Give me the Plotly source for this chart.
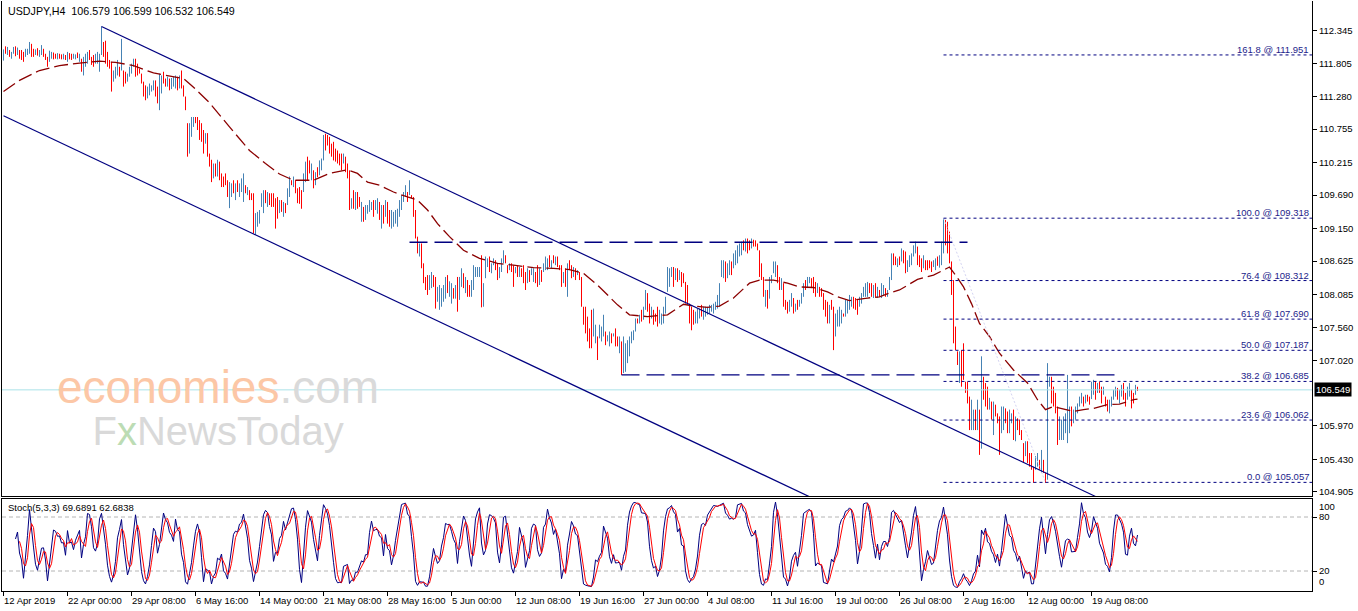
import plotly.graph_objects as go

# ---------------- data (USDJPY H4 bars) ----------------
high = [
112.04,112.09,112.08,112.03,112.00,112.08,112.09,112.07,112.03,112.03,
112.00,112.05,112.05,112.16,112.13,112.05,112.04,112.06,112.03,112.11,
112.05,111.97,111.92,112.02,112.00,111.99,111.97,111.98,111.97,111.96,
111.97,111.95,112.00,111.98,111.97,111.97,111.96,111.99,111.97,111.89,
111.92,111.97,112.00,112.03,111.92,111.95,111.97,112.00,111.97,112.41,
112.16,112.18,112.00,111.87,111.84,111.70,111.76,111.87,111.76,112.21,
111.70,111.68,111.65,111.76,111.81,111.89,111.89,111.81,111.73,111.65,
111.52,111.46,111.44,111.49,111.46,111.54,111.54,111.44,111.65,111.62,
111.68,111.57,111.60,111.57,111.58,111.60,111.62,111.60,111.62,111.70,
111.46,111.28,110.85,110.85,110.95,110.95,110.95,110.95,110.90,110.85,
110.74,110.69,110.69,110.36,110.26,110.20,110.20,110.26,110.23,110.04,
109.99,110.04,109.93,109.90,109.88,109.93,109.88,109.93,109.88,109.96,
110.04,109.85,109.82,109.77,109.72,109.72,109.40,109.42,109.45,109.72,
109.77,109.77,109.74,109.72,109.72,109.72,109.64,109.66,109.61,109.61,
109.58,109.56,109.80,109.99,109.93,109.99,109.93,109.80,109.82,109.77,
110.04,110.23,110.31,110.25,110.20,110.09,110.06,110.14,110.25,110.28,
110.66,110.68,110.66,110.63,110.52,110.55,110.44,110.41,110.36,110.36,
110.36,110.31,110.20,110.09,109.64,109.77,109.74,109.74,109.66,109.58,
109.50,109.53,109.53,109.61,109.58,109.61,109.61,109.64,109.58,109.53,
109.53,109.61,109.58,109.45,109.45,109.42,109.45,109.47,109.61,109.69,
109.74,109.85,109.74,109.93,109.69,109.66,109.45,109.02,108.91,108.91,
108.59,108.37,108.40,108.40,108.45,108.40,108.37,108.21,108.24,108.19,
108.24,108.37,108.40,108.30,108.27,108.19,108.24,108.37,108.37,108.51,
108.43,108.37,108.32,108.24,108.32,108.56,108.53,108.53,108.53,108.72,
108.27,108.70,108.67,108.70,108.59,108.67,108.64,108.59,108.53,108.67,
108.80,108.72,108.56,108.59,108.59,108.56,108.53,108.56,108.53,108.51,
108.56,108.45,108.51,108.48,108.51,108.51,108.45,108.56,108.51,108.48,
108.59,108.70,108.67,108.72,108.64,108.72,108.70,108.70,108.56,108.56,
108.45,108.51,108.59,108.64,108.56,108.53,108.51,108.48,108.45,108.37,
107.89,107.89,107.73,107.54,107.84,107.86,107.60,107.41,107.60,107.57,
107.76,107.49,107.43,107.49,107.46,107.46,107.54,107.41,107.41,107.33,
107.41,107.30,107.35,107.41,107.49,107.51,107.70,107.70,107.76,107.84,
107.89,108.16,108.11,107.94,107.89,107.84,107.78,107.89,107.84,107.78,
107.89,108.05,108.53,108.51,108.53,108.53,108.51,108.51,108.48,108.45,
108.43,108.29,108.24,107.94,107.89,107.84,107.81,107.86,107.86,107.92,
107.89,107.89,107.89,107.92,107.92,107.94,107.97,108.08,108.27,108.64,
108.64,108.62,108.59,108.64,108.62,108.75,108.80,108.88,108.91,108.94,
108.96,108.99,108.99,108.96,108.99,108.97,108.96,108.91,108.80,108.59,
108.37,108.16,108.16,108.37,108.40,108.62,108.62,108.56,108.37,108.35,
108.27,108.00,107.97,108.00,108.11,108.03,107.94,108.00,108.00,108.11,
108.27,108.32,108.37,108.37,108.35,108.37,108.29,108.27,108.21,108.19,
108.11,108.00,107.97,107.92,108.00,107.89,107.78,107.84,107.89,107.84,
107.78,108.00,108.00,108.08,108.05,108.05,108.03,108.00,108.05,108.11,
108.21,108.27,108.29,108.27,108.27,108.24,108.27,108.21,108.16,108.27,
108.24,108.19,108.16,108.37,108.75,108.75,108.70,108.67,108.70,108.83,
108.80,108.78,108.64,108.72,108.75,108.88,108.94,108.86,108.72,108.67,
108.72,108.64,108.64,108.64,108.62,108.64,108.67,108.70,108.72,108.94,
109.31,109.29,109.26,109.10,108.62,108.32,107.57,107.17,107.17,107.19,
107.30,106.68,106.68,106.44,106.39,106.23,106.23,106.39,106.23,107.09,
106.76,106.66,106.60,106.42,106.36,106.36,106.31,106.17,106.12,106.28,
106.28,106.25,106.20,106.23,106.17,106.23,106.12,106.09,106.07,105.90,
105.69,105.72,105.72,105.53,105.53,105.31,105.48,105.53,105.42,105.58,
105.42,105.21,106.98,106.76,106.76,106.60,106.50,106.28,106.12,106.07,
106.12,106.17,106.79,106.28,106.28,106.23,106.28,106.33,106.44,106.50,
106.44,106.47,106.47,106.44,106.68,106.71,106.68,106.66,106.68,106.60,
106.60,106.44,106.39,106.39,106.44,106.55,106.60,106.58,106.55,106.63,
106.66,106.50,106.60,106.66,106.55,106.50,106.63,106.599]

low = [
111.86,111.97,111.95,111.92,111.89,111.97,111.93,111.95,111.89,111.87,
111.84,111.92,111.95,111.97,111.92,111.92,111.95,111.94,111.92,111.95,
111.92,111.87,111.76,111.84,111.89,111.88,111.89,111.88,111.89,111.88,
111.88,111.87,111.84,111.88,111.87,111.89,111.88,111.90,111.84,111.68,
111.62,111.76,111.81,111.87,111.79,111.76,111.81,111.81,111.68,111.95,
111.92,111.81,111.76,111.73,111.36,111.52,111.57,111.62,111.60,111.70,
111.44,111.49,111.52,111.60,111.65,111.76,111.60,111.62,111.65,111.49,
111.28,111.22,111.25,111.30,111.36,111.38,111.28,111.17,111.06,111.33,
111.49,111.44,111.44,111.38,111.40,111.44,111.41,111.38,111.41,111.41,
111.28,111.06,110.31,110.36,110.63,110.79,110.85,110.74,110.58,110.55,
110.36,110.52,110.31,110.15,109.90,109.96,109.99,109.99,109.93,109.82,
109.82,109.85,109.66,109.48,109.66,109.72,109.61,109.74,109.66,109.74,
109.58,109.72,109.69,109.61,109.61,109.07,109.05,109.18,109.23,109.50,
109.40,109.56,109.50,109.53,109.50,109.50,109.15,109.31,109.40,109.42,
109.34,109.40,109.53,109.66,109.85,109.82,109.72,109.56,109.55,109.47,
109.74,109.90,109.93,110.04,109.93,109.80,109.85,109.98,110.01,110.09,
110.25,110.41,110.49,110.36,110.31,110.25,110.23,110.20,110.17,110.09,
110.20,110.06,109.96,109.45,109.47,109.47,109.45,109.47,109.50,109.26,
109.26,109.29,109.39,109.42,109.45,109.34,109.45,109.39,109.29,109.15,
109.23,109.34,109.23,109.18,109.15,109.18,109.23,109.18,109.34,109.45,
109.58,109.66,109.58,109.69,109.64,109.34,108.99,108.75,108.70,108.51,
108.27,108.16,108.08,108.16,108.19,108.21,107.86,107.97,107.84,107.89,
107.97,108.02,108.11,108.05,107.94,108.02,108.02,107.81,108.00,108.21,
108.19,108.11,108.05,108.05,108.05,108.16,108.37,108.37,108.37,107.88,
107.89,108.35,108.53,108.45,108.43,108.56,108.48,108.32,108.35,108.45,
108.59,108.59,108.43,108.48,108.45,108.21,108.43,108.37,108.37,108.37,
108.27,108.16,108.27,108.29,108.40,108.29,108.27,108.21,108.24,108.29,
108.45,108.48,108.48,108.53,108.51,108.59,108.56,108.53,108.48,108.21,
108.27,108.21,108.05,108.48,108.35,108.37,108.32,108.40,108.32,107.89,
107.60,107.46,107.33,107.22,107.22,107.41,107.30,107.03,107.38,107.33,
107.41,107.27,107.33,107.25,107.30,107.41,107.25,107.25,107.14,106.79,
106.82,106.84,106.98,107.09,107.30,107.35,107.49,107.62,107.62,107.65,
107.68,107.84,107.81,107.62,107.70,107.60,107.65,107.57,107.62,107.60,
107.62,107.78,108.13,108.21,108.37,108.21,108.32,108.29,108.32,108.21,
108.27,107.94,107.92,107.62,107.51,107.60,107.62,107.62,107.70,107.73,
107.68,107.73,107.76,107.78,107.81,107.78,107.84,107.86,107.89,108.37,
108.35,108.29,108.35,108.40,108.40,108.51,108.56,108.59,108.70,108.72,
108.80,108.78,108.75,108.80,108.83,108.86,108.86,108.80,108.37,108.32,
108.05,107.89,107.86,108.02,108.27,108.43,108.37,108.27,108.16,108.16,
107.89,107.84,107.78,107.81,107.89,107.78,107.81,107.84,107.89,107.94,
108.05,108.16,108.19,108.27,108.19,108.11,108.05,108.11,108.05,108.05,
107.84,107.73,107.62,107.62,107.84,107.19,107.41,107.57,107.57,107.62,
107.73,107.73,107.78,107.84,107.89,107.86,107.84,107.76,107.89,107.94,
108.05,108.05,108.05,108.11,108.05,108.03,108.05,108.03,108.05,108.03,
108.08,108.05,108.05,108.16,108.32,108.56,108.56,108.53,108.56,108.62,
108.59,108.43,108.45,108.53,108.56,108.70,108.75,108.56,108.53,108.45,
108.51,108.48,108.48,108.51,108.45,108.53,108.48,108.55,108.52,108.56,
108.75,108.88,108.75,108.59,108.08,107.30,107.19,106.95,106.66,106.60,
106.71,106.50,106.33,105.90,105.90,105.90,105.90,105.90,105.50,105.60,
106.39,106.28,106.23,106.23,106.07,105.82,106.12,106.01,105.50,105.85,
105.90,106.01,105.85,105.85,106.01,105.74,105.72,105.90,105.82,105.74,
105.37,105.48,105.37,105.31,105.26,105.05,105.26,105.31,105.26,105.21,
105.21,105.05,105.10,106.60,106.33,106.28,106.17,105.66,105.74,105.74,
105.74,105.85,105.69,105.85,105.96,106.01,106.07,106.17,106.28,106.33,
106.28,106.33,106.36,106.31,106.40,106.47,106.39,106.50,106.50,106.33,
106.47,106.28,106.20,106.17,106.28,106.39,106.44,106.39,106.33,106.44,
106.39,106.28,106.39,106.44,106.25,106.33,106.47,106.532]

close = [
112.00,111.99,112.05,111.94,111.98,112.06,111.95,112.04,111.92,111.89,
111.87,112.02,112.04,112.13,111.95,111.93,112.02,111.96,112.01,112.08,
111.94,111.89,111.79,111.97,111.99,111.91,111.90,111.96,111.95,111.90,
111.96,111.89,111.98,111.90,111.89,111.94,111.95,111.92,111.96,111.71,
111.88,111.94,111.98,111.90,111.81,111.79,111.94,111.96,111.97,112.30,
111.98,111.85,111.79,111.75,111.40,111.66,111.72,111.82,111.64,112.10,
111.55,111.51,111.62,111.73,111.78,111.86,111.75,111.70,111.66,111.52,
111.31,111.25,111.40,111.42,111.44,111.51,111.32,111.20,111.58,111.60,
111.52,111.47,111.56,111.42,111.55,111.58,111.60,111.42,111.58,111.45,
111.30,111.08,110.40,110.78,110.90,110.93,110.87,110.77,110.62,110.58,
110.40,110.65,110.35,110.18,109.95,110.15,110.03,110.22,109.97,109.92,
109.90,109.87,109.69,109.85,109.86,109.75,109.84,109.77,109.84,109.92,
109.98,109.75,109.79,109.64,109.63,109.10,109.36,109.39,109.42,109.69,
109.74,109.58,109.71,109.56,109.53,109.52,109.50,109.35,109.57,109.55,
109.57,109.43,109.77,109.95,109.87,109.96,109.75,109.60,109.58,109.50,
109.99,110.19,110.12,110.07,110.16,109.84,110.02,110.00,110.22,110.26,
110.60,110.55,110.51,110.40,110.34,110.28,110.26,110.23,110.20,110.12,
110.33,110.09,109.99,109.49,109.60,109.52,109.70,109.55,109.52,109.55,
109.29,109.50,109.51,109.54,109.56,109.37,109.58,109.61,109.32,109.50,
109.26,109.58,109.26,109.21,109.35,109.40,109.43,109.45,109.58,109.66,
109.72,109.82,109.61,109.88,109.66,109.38,109.03,108.78,108.88,108.55,
108.30,108.19,108.11,108.36,108.41,108.24,107.90,108.10,108.12,108.16,
108.21,108.33,108.14,108.25,108.26,108.05,108.21,107.85,108.33,108.47,
108.22,108.34,108.08,108.07,108.29,108.45,108.50,108.51,108.52,107.90,
108.22,108.60,108.64,108.48,108.56,108.65,108.51,108.35,108.50,108.64,
108.76,108.62,108.45,108.57,108.47,108.25,108.51,108.40,108.50,108.40,
108.30,108.19,108.48,108.32,108.49,108.50,108.30,108.25,108.48,108.32,
108.57,108.62,108.65,108.56,108.62,108.61,108.68,108.56,108.50,108.25,
108.42,108.24,108.55,108.51,108.38,108.50,108.35,108.46,108.35,107.93,
107.63,107.50,107.36,107.25,107.24,107.50,107.56,107.06,107.50,107.54,
107.72,107.30,107.41,107.46,107.33,107.44,107.28,107.27,107.38,106.83,
107.20,107.26,107.32,107.38,107.46,107.49,107.67,107.64,107.74,107.68,
107.86,108.12,107.85,107.66,107.86,107.70,107.67,107.60,107.72,107.75,
107.86,108.00,108.42,108.46,108.51,108.25,108.48,108.32,108.45,108.33,
108.30,107.97,107.95,107.70,107.66,107.63,107.78,107.83,107.84,107.76,
107.86,107.87,107.88,107.90,107.91,107.92,107.95,108.06,108.24,108.60,
108.61,108.33,108.56,108.61,108.44,108.72,108.77,108.85,108.89,108.92,
108.82,108.96,108.85,108.82,108.97,108.88,108.87,108.82,108.40,108.35,
108.08,108.12,107.90,108.34,108.38,108.59,108.60,108.30,108.19,108.32,
107.92,107.86,107.80,107.97,108.08,107.81,107.92,107.86,107.98,108.09,
108.24,108.19,108.35,108.36,108.22,108.14,108.08,108.25,108.08,108.07,
107.87,107.76,107.65,107.90,107.86,107.23,107.74,107.76,107.78,107.82,
107.77,107.97,107.98,108.00,108.03,107.89,107.86,107.79,108.03,108.09,
108.19,108.25,108.27,108.14,108.08,108.21,108.08,108.18,108.07,108.18,
108.22,108.07,108.14,108.35,108.71,108.59,108.58,108.64,108.58,108.80,
108.62,108.55,108.60,108.70,108.73,108.86,108.92,108.59,108.56,108.48,
108.69,108.60,108.56,108.53,108.48,108.55,108.65,108.58,108.68,108.90,
109.25,108.92,108.80,108.63,108.12,107.35,107.22,106.98,107.10,106.80,
106.75,106.53,106.37,105.95,106.15,106.20,105.94,106.35,105.55,106.98,
106.43,106.31,106.26,106.39,106.10,106.15,106.14,106.03,105.54,106.24,
106.25,106.04,105.89,106.10,106.15,105.78,105.95,105.92,105.85,105.77,
105.40,105.69,105.40,105.34,105.30,105.08,105.45,105.50,105.29,105.55,
105.24,105.08,106.70,106.74,106.37,106.31,106.20,105.70,106.00,106.04,
106.09,106.14,106.20,106.24,105.99,106.20,106.26,106.31,106.42,106.48,
106.31,106.45,106.38,106.34,106.66,106.69,106.42,106.63,106.53,106.36,
106.58,106.31,106.23,106.36,106.42,106.53,106.58,106.42,106.52,106.60,
106.42,106.31,106.57,106.63,106.40,106.36,106.579,106.549]
first_open = 111.95

# moving average (dark red dashed) read at a number of bars
ma_bar = [0,8,18,28,38,48,56,65,75,85,90,95,103,113,123,131,138,145,155,163,
          172,177,182,188,195,202,207,212,217,223,230,238,247,255,265,275,283,290,297,307,
          313,322,332,340,345,352,358,365,373,378,385,392,398,405,412,417,423,432,438,443,
          448,457,465,470,473,476,480,484,488,493,498,505,512,517,521,525,530,535,540,545,
          552,558,565,567]
ma_val = [111.36,111.54,111.70,111.78,111.82,111.85,111.83,111.78,111.66,111.60,
          111.57,111.43,111.18,110.79,110.41,110.20,110.03,109.93,109.93,110.04,
          110.10,110.04,109.90,109.85,109.74,109.66,109.61,109.45,109.23,109.02,
          108.80,108.67,108.59,108.56,108.52,108.51,108.49,108.43,108.24,107.92,
          107.76,107.73,107.76,107.93,107.90,107.88,107.90,108.03,108.27,108.32,
          108.32,108.27,108.21,108.20,108.13,108.05,107.99,108.03,108.05,108.11,
          108.16,108.33,108.40,108.48,108.53,108.40,108.21,107.94,107.62,107.41,
          107.14,106.87,106.66,106.39,106.23,106.28,106.24,106.20,106.23,106.25,
          106.31,106.32,106.39,106.40]

# drawn objects (anchor bar, price)
channel_upper_bar = [49, 546]
channel_upper_px = [112.41, 104.83]
channel_lower_bar = [0, 404]
channel_lower_px = [110.97, 104.81]
resistance_bar = [203, 482]
resistance_px = 108.93
support_bar = [309, 557]
support_px = 106.79
fib_pct = ["161.8", "100.0", "76.4", "61.8", "50.0", "38.2", "23.6", "0.0"]
fib_px = [111.951, 109.318, 108.312, 107.690, 107.187, 106.685, 106.062, 105.057]
fib_start_bar = 470
fib_diag_bar = [470, 521]
fib_diag_px = [109.318, 105.057]
last_px = 106.549

price_ticks = [112.345, 111.805, 111.280, 110.755, 110.215, 109.690, 109.150,
               108.625, 108.085, 107.560, 107.020, 105.970, 105.430, 104.905]
date_bars = [0, 32, 64, 96, 128, 160, 192, 224, 256, 288, 320, 352, 384, 416, 448, 480, 512, 544]
date_text = ["12 Apr 2019", "22 Apr 00:00", "29 Apr 08:00", "6 May 16:00", "14 May 00:00",
             "21 May 08:00", "28 May 16:00", "5 Jun 00:00", "12 Jun 08:00", "19 Jun 16:00",
             "27 Jun 00:00", "4 Jul 08:00", "11 Jul 16:00", "19 Jul 00:00", "26 Jul 08:00",
             "2 Aug 16:00", "12 Aug 00:00", "19 Aug 08:00"]
chart_title = "USDJPY,H4\u00a0\u00a0106.579 106.599 106.532 106.549"
stoch_title = "Stoch(5,3,3) 69.6891 62.6838"
stoch_levels = [80, 20]

# ---------------- derived ----------------
n = len(close)
bars = list(range(n))
opn = [first_open] + close[:-1]

# Stochastic (5,3,3)
K = [None] * n
D = [None] * n
for i in range(6, n):
    num = den = 0.0
    for j in range(i - 2, i + 1):
        hh = max(high[j - 4:j + 1])
        ll = min(low[j - 4:j + 1])
        num += close[j] - ll
        den += hh - ll
    K[i] = 100.0 * num / den if den else 50.0
for i in range(8, n):
    D[i] = (K[i] + K[i - 1] + K[i - 2]) / 3.0

FONT = "Liberation Sans"
NAVY = "#000080"
XR = [-0.75, 654.25]

fig = go.Figure()

# current price line
fig.add_trace(go.Scatter(x=XR, y=[last_px, last_px], mode="lines",
                         line=dict(color="#a9e2e8", width=1), hoverinfo="skip"))

fig.add_trace(go.Ohlc(x=bars, open=opn, high=high, low=low, close=close,
                      increasing=dict(line=dict(color="#4682b4", width=1)),
                      decreasing=dict(line=dict(color="#ff0000", width=1)),
                      tickwidth=0, hoverinfo="skip"))

# moving average
fig.add_trace(go.Scatter(x=ma_bar, y=ma_val, mode="lines",
                         line=dict(color="#8b0000", width=1.3, dash="14px,5px"),
                         hoverinfo="skip"))

# channel
fig.add_trace(go.Scatter(x=channel_upper_bar, y=channel_upper_px, mode="lines",
                         line=dict(color=NAVY, width=1.2), hoverinfo="skip"))
fig.add_trace(go.Scatter(x=channel_lower_bar, y=channel_lower_px, mode="lines",
                         line=dict(color=NAVY, width=1.2), hoverinfo="skip"))

# horizontal long-dash lines
fig.add_trace(go.Scatter(x=resistance_bar, y=[resistance_px] * 2, mode="lines",
                         line=dict(color=NAVY, width=1.3, dash="18px,7px"), hoverinfo="skip"))
fig.add_trace(go.Scatter(x=support_bar, y=[support_px] * 2, mode="lines",
                         line=dict(color=NAVY, width=1.3, dash="18px,7px"), hoverinfo="skip"))

# fibonacci
fig.add_trace(go.Scatter(x=fib_diag_bar, y=fib_diag_px, mode="lines",
                         line=dict(color="#d4d4f2", width=1, dash="2px,2px"), hoverinfo="skip"))
for p in fib_px:
    fig.add_trace(go.Scatter(x=[fib_start_bar, XR[1]], y=[p, p], mode="lines",
                             line=dict(color=NAVY, width=1, dash="3px,3px"), hoverinfo="skip"))

# stochastic panel
for lv in stoch_levels:
    fig.add_trace(go.Scatter(x=XR, y=[lv, lv], mode="lines", xaxis="x2", yaxis="y2",
                             line=dict(color="#b4b4b4", width=1, dash="4px,3px"), hoverinfo="skip"))
fig.add_trace(go.Scatter(x=bars, y=K, mode="lines", xaxis="x2", yaxis="y2",
                         line=dict(color=NAVY, width=1), hoverinfo="skip"))
fig.add_trace(go.Scatter(x=bars, y=D, mode="lines", xaxis="x2", yaxis="y2",
                         line=dict(color="#ff0000", width=1), hoverinfo="skip"))

ann = []
tf = dict(family=FONT, size=9.5, color="black")
ann.append(dict(text=chart_title, xref="paper", yref="paper", x=0, y=1, xanchor="left",
                yanchor="top", xshift=4, yshift=-2, showarrow=False,
                font=dict(family=FONT, size=10.7, color="black")))
ann.append(dict(text=stoch_title, xref="paper", yref="paper", x=0, y=0.15593, xanchor="left",
                yanchor="top", xshift=4, yshift=-1, showarrow=False, font=tf))
for pct, p in zip(fib_pct, fib_px):
    ann.append(dict(text=f"{pct} @ {p:.3f}", xref="paper", yref="y", x=1, y=p,
                    xanchor="right", yanchor="bottom", xshift=-1, yshift=-2, showarrow=False,
                    font=dict(family=FONT, size=9.5, color="#1c1c8a")))
for b, t in zip(date_bars, date_text):
    ann.append(dict(text=t, xref="x", yref="paper", x=b, y=0, xanchor="left", yanchor="top",
                    xshift=-2, yshift=-2, showarrow=False, font=tf))
ann.append(dict(text=f"{last_px:.3f}", xref="paper", yref="y", x=1, y=last_px, xanchor="left",
                yanchor="middle", xshift=2, showarrow=False, bgcolor="black", borderpad=1,
                font=dict(family=FONT, size=9.5, color="white")))
ann.append(dict(text="100", xref="paper", yref="y2", x=1, y=100, xanchor="left", yanchor="top",
                xshift=5, showarrow=False, font=tf))
ann.append(dict(text="0", xref="paper", yref="y2", x=1, y=0, xanchor="left", yanchor="bottom",
                xshift=5, showarrow=False, font=tf))
# watermark: one two-line text block
wm = ("<span style='font-size:46px'><span style='color:#fcc7a6'>economies</span>"
      "<span style='color:#dadada'>.com</span></span><br>"
      "<span style='font-size:40px;color:#d9d9d9'>F<span style='color:#bcdcb4'>x</span>NewsToday</span>")
ann.append(dict(text=wm, xref="paper", yref="paper", x=0.1650, y=0.3125, xanchor="center",
                yanchor="middle", showarrow=False, font=dict(family=FONT, size=32, color="#d9d9d9")))

fig.update_layout(
    width=1358, height=611,
    margin=dict(l=2, r=46, t=1, b=20),
    paper_bgcolor="white", plot_bgcolor="white",
    showlegend=False,
    annotations=ann,
    xaxis=dict(domain=[0, 1], anchor="y", range=XR, showgrid=False, zeroline=False,
               showticklabels=False, ticks="", showline=True, linecolor="black", linewidth=1,
               mirror=False, rangeslider=dict(visible=False)),
    yaxis=dict(domain=[0.16102, 1], range=[104.837, 112.821], side="right", showgrid=False,
               zeroline=False, tickvals=price_ticks, ticktext=[f"{v:.3f}" for v in price_ticks],
               ticks="outside", ticklen=4, tickcolor="black", tickfont=tf,
               showline=True, linecolor="black", linewidth=1, mirror=True),
    xaxis2=dict(domain=[0, 1], anchor="y2", matches="x", range=XR, showgrid=False, zeroline=False,
                tickvals=date_bars, ticktext=[""] * len(date_bars), ticks="outside", ticklen=4,
                tickcolor="black", showline=True, linecolor="black", linewidth=1, mirror=True,
                rangeslider=dict(visible=False)),
    yaxis2=dict(domain=[0, 0.15593], range=[-2.22, 100], side="right", showgrid=False,
                zeroline=False, tickvals=stoch_levels, ticktext=[str(v) for v in stoch_levels],
                ticks="outside", ticklen=4, tickcolor="black", tickfont=tf,
                showline=True, linecolor="black", linewidth=1, mirror=True),
)

fig.write_html("out.html", config={"displayModeBar": False},
               post_script="document.body.style.margin='0';")
